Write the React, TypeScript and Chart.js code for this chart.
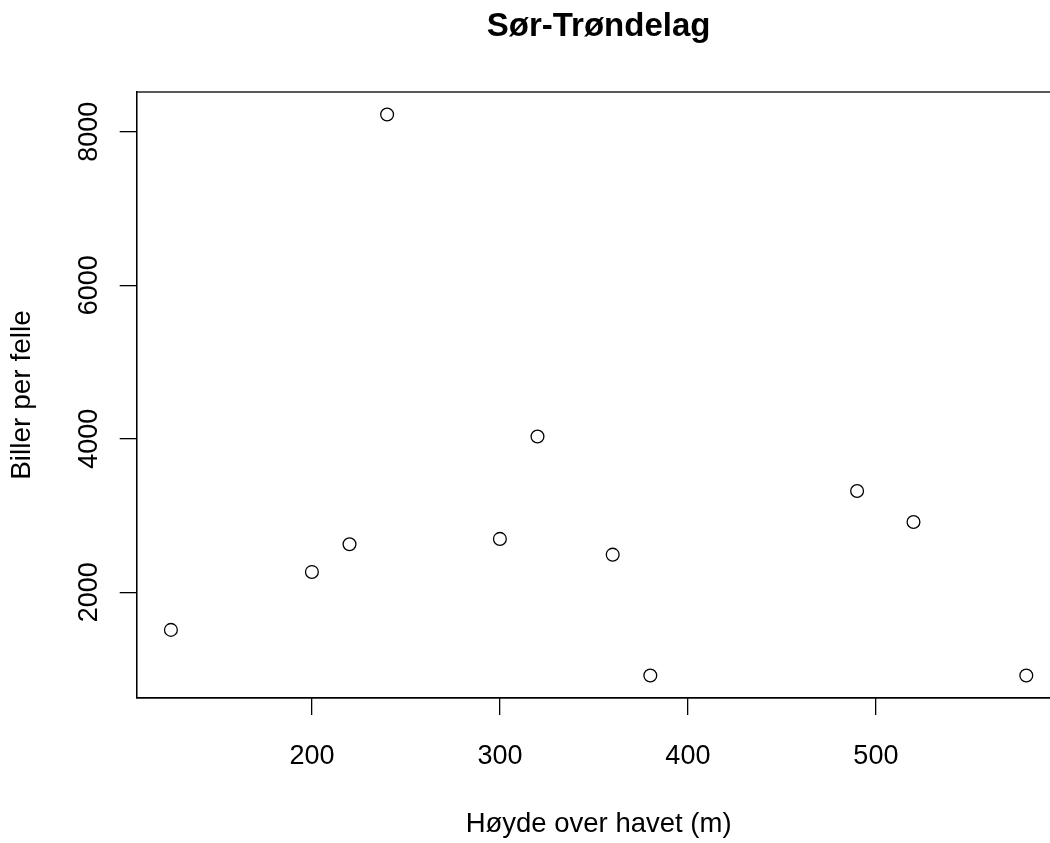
import React, { useEffect, useRef } from "react";
import { Chart, registerables } from "chart.js";

Chart.register(...registerables);

const chartTitle = "Sør-Trøndelag";
const xTitle = "Høyde over havet (m)";
const yTitle = "Biller per felle";
const elevation = [125, 200, 220, 240, 300, 320, 360, 380, 490, 520, 580];
const beetles = [1510, 2265, 2625, 8225, 2695, 4030, 2490, 915, 3320, 2915, 915];
const xTicks = [200, 300, 400, 500];
const yTicks = [2000, 4000, 6000, 8000];

const FONT = "'Liberation Sans', Arial, Helvetica, sans-serif";

function rLimits(vals: number[]): [number, number] {
  const lo = Math.min(...vals);
  const hi = Math.max(...vals);
  const pad = (hi - lo) * 0.04;
  return [lo - pad, hi + pad];
}

const framePlugin = {
  id: "frame",
  afterDraw(chart: any) {
    const { ctx, chartArea } = chart;
    ctx.save();
    ctx.strokeStyle = "#000";
    ctx.lineWidth = 1.3;
    ctx.strokeRect(chartArea.left, chartArea.top, chartArea.right - chartArea.left, chartArea.bottom - chartArea.top);
    ctx.restore();
  },
};

export default function App() {
  const ref = useRef<HTMLCanvasElement | null>(null);

  useEffect(() => {
    if (!ref.current) return;
    const [xMin, xMax] = rLimits(elevation);
    const [yMin, yMax] = rLimits(beetles);
    const chart = new Chart(ref.current, {
      type: "scatter",
      data: {
        datasets: [
          {
            data: elevation.map((x, i) => ({ x, y: beetles[i] })),
            pointStyle: "circle",
            pointRadius: 6.4,
            pointHoverRadius: 6.4,
            borderWidth: 1.3,
            borderColor: "#000",
            backgroundColor: "rgba(0,0,0,0)",
            showLine: false,
          },
        ],
      },
      options: {
        animation: false,
        responsive: false,
        events: [],
        layout: { padding: { left: 0, right: 19.5, top: 0, bottom: 0 } },
        plugins: {
          legend: { display: false },
          tooltip: { enabled: false },
          title: {
            display: true,
            text: chartTitle,
            fullSize: false,
            color: "#000",
            font: { family: FONT, size: 33, weight: "bold" },
            padding: { top: 6.8, bottom: 45.6 },
          },
        },
        scales: {
          x: {
            type: "linear",
            min: xMin,
            max: xMax,
            afterBuildTicks: (s: any) => {
              s.ticks = xTicks.map((v) => ({ value: v }));
            },
            afterFit: (s: any) => {
              s.height = 145;
            },
            ticks: {
              color: "#000",
              font: { family: FONT, size: 27 },
              padding: 25.4,
              maxRotation: 0,
              autoSkip: false,
              callback: (v: any) => String(v),
            },
            grid: {
              drawOnChartArea: false,
              drawTicks: true,
              tickLength: 17,
              color: "#000",
              lineWidth: 1.3,
            },
            border: { display: true, color: "#000", width: 1.3 },
            title: {
              display: true,
              text: xTitle,
              color: "#000",
              font: { family: FONT, size: 27.5 },
              padding: { top: 0, bottom: 2.1 },
            },
          },
          y: {
            type: "linear",
            min: yMin,
            max: yMax,
            afterBuildTicks: (s: any) => {
              s.ticks = yTicks.map((v) => ({ value: v }));
            },
            afterFit: (s: any) => {
              s.width = 136.7;
            },
            ticks: {
              color: "#000",
              font: { family: FONT, size: 27 },
              padding: 0,
              minRotation: 90,
              maxRotation: 90,
              crossAlign: "center",
              autoSkip: false,
              callback: (v: any) => String(v),
            },
            grid: {
              drawOnChartArea: false,
              drawTicks: true,
              tickLength: 17,
              color: "#000",
              lineWidth: 1.3,
            },
            border: { display: true, color: "#000", width: 1.3 },
            title: {
              display: true,
              text: yTitle,
              color: "#000",
              font: { family: FONT, size: 28 },
              padding: { top: 5.2, bottom: 0 },
            },
          },
        },
      },
      plugins: [framePlugin],
    } as any);
    return () => chart.destroy();
  }, []);

  return (
    <div
      style={{
        position: "fixed",
        top: 0,
        left: 0,
        width: 1050,
        height: 843,
        overflow: "hidden",
        background: "#fff",
      }}
    >
      <canvas ref={ref} width={1080} height={843} style={{ display: "block" }} />
    </div>
  );
}
